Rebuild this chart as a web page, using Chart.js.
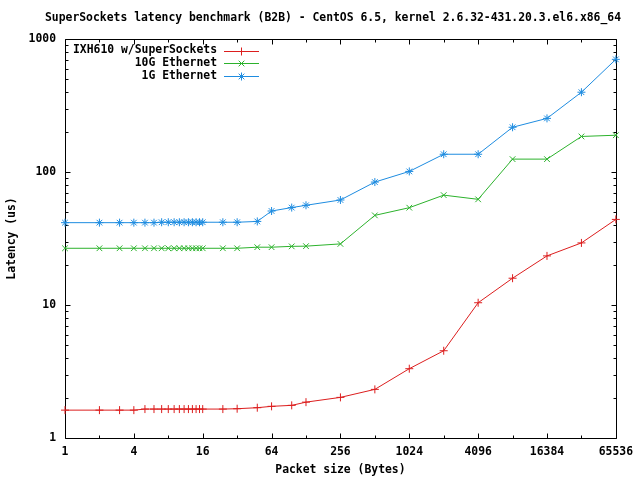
<!DOCTYPE html>
<html lang="en">
<head>
  <meta charset="UTF-8">
  <title>SuperSockets latency benchmark</title>
  <style>
    html, body { margin: 0; padding: 0; background: #fff; }
    canvas { display: block; }
  </style>
</head>
<body>
  <canvas id="latencyChart" width="640" height="480"></canvas>

  <script src="https://cdn.jsdelivr.net/npm/chart.js"></script>
  <script>
    const titleText = 'SuperSockets latency benchmark (B2B) - CentOS 6.5, kernel 2.6.32-431.20.3.el6.x86_64';

    // packet size in bytes
    const packetSizes = [1, 2, 3, 4, 5, 6, 7, 8, 9, 10, 11, 12, 13, 14, 15, 16,
      24, 32, 48, 64, 96, 128, 256, 512, 1024, 2048, 4096, 8192, 16384, 32768, 65536];

    // latency in microseconds
    const superSockets = [1.62, 1.62, 1.62, 1.62, 1.65, 1.65, 1.65, 1.65, 1.65, 1.65, 1.65, 1.65, 1.65, 1.65, 1.65, 1.65,
      1.65, 1.66, 1.69, 1.73, 1.76, 1.86, 2.02, 2.32, 3.32, 4.53, 10.4, 15.9, 23.4, 29.3, 44];
    const tenGig = [26.7, 26.7, 26.7, 26.7, 26.7, 26.7, 26.7, 26.7, 26.7, 26.7, 26.7, 26.7, 26.7, 26.7, 26.7, 26.7,
      26.7, 26.7, 27.2, 27.2, 27.6, 27.7, 28.8, 47.2, 53.9, 67, 62.3, 125, 125, 185, 189];
    const oneGig = [41.6, 41.6, 41.6, 41.6, 41.6, 41.6, 41.9, 41.9, 41.9, 41.9, 41.9, 41.9, 41.9, 41.9, 41.9, 41.9,
      41.9, 41.9, 42.5, 50.9, 54, 56.2, 61.6, 84, 101, 136, 136, 217, 253, 398, 703];

    const seriesNames = ['IXH610 w/SuperSockets', '10G Ethernet', '1G Ethernet'];
    const seriesColors = ['#dc1e1e', '#2cb22c', '#1e8ce0'];
    const seriesMarkers = ['cross', 'crossRot', 'star'];

    const xTicks = [1, 4, 16, 64, 256, 1024, 4096, 16384, 65536];
    const xMinorTicks = [2, 8, 32, 128, 512, 2048, 8192, 32768];
    const yTicks = [1, 10, 100, 1000];

    const fontFamily = '"DejaVu Sans Mono", "Liberation Mono", monospace';
    Chart.defaults.font.family = fontFamily;
    Chart.defaults.font.size = 11.4;
    Chart.defaults.font.weight = 'bold';
    Chart.defaults.color = '#000';

    const toPoints = values => packetSizes.map((size, i) => ({ x: size, y: values[i] }));

    const datasets = [superSockets, tenGig, oneGig].map((values, i) => ({
      label: seriesNames[i],
      data: toPoints(values),
      borderColor: seriesColors[i],
      backgroundColor: seriesColors[i],
      borderWidth: 1,
      pointStyle: seriesMarkers[i],
      pointRadius: 4,
      pointBorderWidth: 1,
      tension: 0,
      clip: false
    }));

    // gnuplot style frame with inward ticks on all four sides
    const frameTicks = {
      id: 'frameTicks',
      beforeDatasetsDraw(chart) {
        const { ctx, chartArea: a, scales: { x, y } } = chart;
        const left = Math.round(a.left) + 0.5;
        const right = Math.round(a.right) + 0.5;
        const top = Math.round(a.top) + 0.5;
        const bottom = Math.round(a.bottom) + 0.5;

        ctx.save();
        ctx.strokeStyle = '#000';
        ctx.lineWidth = 1;
        ctx.beginPath();

        const tickX = (v, len) => {
          const px = Math.round(x.getPixelForValue(v)) + 0.5;
          ctx.moveTo(px, bottom); ctx.lineTo(px, bottom - len);
          ctx.moveTo(px, top); ctx.lineTo(px, top + len);
        };
        const tickY = (v, len) => {
          const py = Math.round(y.getPixelForValue(v)) + 0.5;
          ctx.moveTo(left, py); ctx.lineTo(left + len, py);
          ctx.moveTo(right, py); ctx.lineTo(right - len, py);
        };

        xTicks.forEach(v => tickX(v, 5));
        xMinorTicks.forEach(v => tickX(v, 3));
        yTicks.forEach(v => tickY(v, 5));
        yTicks.slice(0, -1).forEach(decade => {
          for (let m = 2; m < 10; m++) tickY(decade * m, 3);
        });

        ctx.rect(left, top, right - left, bottom - top);
        ctx.stroke();
        ctx.restore();
      },
      afterDraw(chart) {
        const { ctx } = chart;
        ctx.save();
        ctx.font = 'bold 11.4px ' + fontFamily;
        ctx.fillStyle = '#000';
        ctx.textBaseline = 'middle';

        ctx.textAlign = 'center';
        ctx.fillText(titleText, 333, 18);

        // key: right-justified text, sample line on the right
        ctx.textAlign = 'right';
        chart.data.datasets.forEach((ds, i) => {
          const yy = 50.5 + i * 12.6;
          ctx.fillStyle = '#000';
          ctx.fillText(ds.label, 217, yy);

          ctx.strokeStyle = ds.borderColor;
          ctx.fillStyle = ds.borderColor;
          ctx.lineWidth = 1;
          ctx.beginPath();
          ctx.moveTo(224, Math.round(yy) + 0.5);
          ctx.lineTo(259, Math.round(yy) + 0.5);
          ctx.stroke();
          Chart.helpers.drawPoint(ctx, {
            pointStyle: ds.pointStyle,
            radius: ds.pointRadius,
            borderWidth: 1,
            rotation: 0
          }, 241.5, Math.round(yy) + 0.5);
        });
        ctx.restore();
      }
    };

    new Chart(document.getElementById('latencyChart'), {
      type: 'line',
      data: { datasets },
      options: {
        responsive: false,
        animation: false,
        layout: { padding: { top: 39, right: 22, left: 0, bottom: 0 } },
        plugins: {
          legend: { display: false },
          title: { display: false },
          tooltip: { enabled: false }
        },
        scales: {
          x: {
            type: 'logarithmic',
            min: 1,
            max: 65536,
            afterBuildTicks: scale => { scale.ticks = xTicks.map(v => ({ value: v })); },
            afterFit: scale => { scale.height = 42; },
            grid: { display: false, drawTicks: false },
            border: { display: false },
            ticks: { padding: 7, autoSkip: false, maxRotation: 0, callback: v => String(v) },
            title: { display: true, text: 'Packet size (Bytes)', padding: { top: 0, bottom: 3 } }
          },
          y: {
            type: 'logarithmic',
            min: 1,
            max: 1000,
            afterBuildTicks: scale => { scale.ticks = yTicks.map(v => ({ value: v })); },
            afterFit: scale => { scale.width = 65; },
            grid: { display: false, drawTicks: false },
            border: { display: false },
            ticks: { padding: 9, autoSkip: false, callback: v => String(v) },
            title: { display: true, text: 'Latency (us)', padding: { top: 5, bottom: 0 } }
          }
        }
      },
      plugins: [frameTicks]
    });
  </script>
</body>
</html>
